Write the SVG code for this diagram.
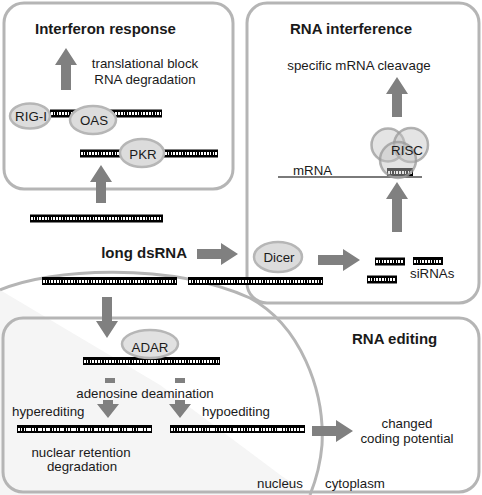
<svg xmlns="http://www.w3.org/2000/svg" width="482" height="495" viewBox="0 0 482 495">
<style>
text{font-family:"Liberation Sans",Arial,sans-serif;fill:#1a1a1a;font-size:13.3px}
.t{font-weight:bold;font-size:15px}
.m{text-anchor:middle}
.panel{fill:#fff;stroke:#b5b5b5;stroke-width:3}
.enz{fill:#dcdcdc;stroke:#b6b6b6;stroke-width:2.5}
.ds{stroke:#000;stroke-width:8}
.dw{stroke:#fff;stroke-width:3;stroke-dasharray:1.6 1.2;shape-rendering:crispEdges}
.arr{fill:#808080}
.risc{fill:#c4c4c4;fill-opacity:0.45;stroke:#9a9a9a;stroke-opacity:0.75;stroke-width:2.5}
</style>
<rect width="482" height="495" fill="#fff"/>
<g id="nucleus">
<path d="M0,290 L160,385 L283,477 L312,495 L0,495 Z" fill="#f5f5f5"/>
<path d="M0,290 C50,268 170,262 250,298 C300,325 325,390 322,445 C320,470 314,485 310,495" fill="none" stroke="#b5b5b5" stroke-width="3"/>
</g>
<g id="interferon-response">
<rect class="panel" x="4" y="3" width="229" height="186" rx="20"/>
<text class="t" x="35" y="34">Interferon response</text>
<text class="m" x="145" y="68">translational block</text>
<text class="m" x="145" y="84">RNA degradation</text>
</g>
<g id="rna-interference">
<rect class="panel" x="247" y="3" width="232" height="300" rx="20"/>
<text class="t" x="290" y="34">RNA interference</text>
<text class="m" x="359" y="70">specific mRNA cleavage</text>
</g>
<g id="rna-editing">
<rect class="panel" x="3" y="318" width="476" height="174" rx="20" style="fill:none"/>
<text class="t" x="352" y="344">RNA editing</text>
</g>
<g id="connectors">
<path class="arr" d="M66,48 L77,65 L71,65 L71,90 L61,90 L61,65 L55,65 Z"/>
<path class="arr" d="M101,165 L112,182 L106,182 L106,203 L96,203 L96,182 L90,182 Z"/>
<path class="arr" d="M397,77 L408,94 L402,94 L402,117 L392,117 L392,94 L386,94 Z"/>
<path class="arr" d="M397,182 L408,199 L402,199 L402,232 L392,232 L392,199 L386,199 Z"/>
<path class="arr" d="M238,254 L221,243 L221,249 L197,249 L197,259 L221,259 L221,265 Z"/>
<path class="arr" d="M360,260 L343,249 L343,255 L318,255 L318,265 L343,265 L343,271 Z"/>
<path class="arr" d="M107,338 L96,321 L102,321 L102,297 L112,297 L112,321 L118,321 Z"/>
<rect class="arr" x="105" y="378" width="10" height="5"/>
<rect class="arr" x="175" y="378" width="10" height="5"/>
<path class="arr" d="M108,418 L97,404 L103,404 L103,400 L113,400 L113,404 L119,404 Z"/>
<path class="arr" d="M180,418 L169,404 L175,404 L175,400 L185,400 L185,404 L191,404 Z"/>
<path class="arr" d="M353,431 L336,420 L336,426 L312,426 L312,436 L336,436 L336,442 Z"/>
</g>
<g id="dsrna-ifn1"><line class="ds" x1="50" y1="113.5" x2="162" y2="113.5"/><line class="dw" x1="51" y1="113.5" x2="161" y2="113.5"/></g>
<g id="dsrna-ifn2"><line class="ds" x1="80" y1="153.5" x2="218" y2="153.5"/><line class="dw" x1="81" y1="153.5" x2="217" y2="153.5"/></g>
<g id="rig-i"><ellipse class="enz" cx="30" cy="116" rx="20" ry="12.5"/><text class="m" x="31" y="121">RIG-I</text></g>
<g id="oas"><ellipse class="enz" cx="93" cy="120" rx="23" ry="14"/><text class="m" x="94" y="125">OAS</text></g>
<g id="pkr"><ellipse class="enz" cx="142" cy="153" rx="22" ry="14"/><text class="m" x="143" y="159">PKR</text></g>
<g id="dsrna-top"><line class="ds" x1="30" y1="218.5" x2="163" y2="218.5"/><line class="dw" x1="31" y1="218.5" x2="162" y2="218.5"/></g>
<g id="long-dsrna"><text class="t" x="187" y="258" text-anchor="end">long dsRNA</text></g>
<g id="dsrna-low1"><line class="ds" x1="42" y1="281" x2="177" y2="281"/><line class="dw" x1="43" y1="281" x2="176" y2="281"/></g>
<g id="dsrna-low2"><line class="ds" x1="188" y1="281" x2="323" y2="281"/><line class="dw" x1="189" y1="281" x2="322" y2="281"/></g>
<g id="dicer"><ellipse class="enz" cx="278" cy="257" rx="24" ry="15"/><text class="m" x="279" y="262">Dicer</text></g>
<g id="sirnas">
<line class="ds" x1="375" y1="261.5" x2="405" y2="261.5"/><line class="dw" x1="376" y1="261.5" x2="404" y2="261.5"/>
<line class="ds" x1="413" y1="261" x2="443" y2="261"/><line class="dw" x1="414" y1="261" x2="442" y2="261"/>
<line class="ds" x1="367" y1="279.5" x2="397" y2="279.5"/><line class="dw" x1="368" y1="279.5" x2="396" y2="279.5"/>
<text x="410" y="278">siRNAs</text>
</g>
<g id="mrna">
<line x1="278" y1="177" x2="422" y2="177" stroke="#7a7a7a" stroke-width="1.8"/>
<text x="293" y="175">mRNA</text>
<line class="ds" x1="387" y1="172" x2="413" y2="172"/><line class="dw" x1="388" y1="172" x2="412" y2="172"/>
</g>
<g id="risc">
<circle class="risc" cx="388" cy="145" r="16.5"/>
<circle class="risc" cx="411" cy="145" r="17"/>
<circle class="risc" cx="398" cy="160" r="18"/>
<text class="m" x="407" y="155">RISC</text>
</g>
<g id="dsrna-adar"><line class="ds" x1="83" y1="361" x2="220" y2="361"/><line class="dw" x1="84" y1="361" x2="219" y2="361"/></g>
<g id="adar"><ellipse class="enz" cx="150" cy="344" rx="28" ry="14" fill-opacity="0.85"/><text class="m" x="150" y="352">ADAR</text></g>
<text class="m" x="145" y="398">adenosine deamination</text>
<g id="hyperediting">
<text x="12" y="416">hyperediting</text>
<line class="ds" x1="17" y1="429" x2="152" y2="429"/>
<line class="dw" x1="18" y1="429" x2="151" y2="429" style="stroke-dasharray:1.6 1.2 1.6 1.2 1.6 1.2 4.4 1.2 1.6 1.2 1.6 1.2 4.4 1.2 1.6 1.2 4.4 1.2"/>
<text class="m" x="81" y="457">nuclear retention</text>
<text class="m" x="82" y="471">degradation</text>
</g>
<g id="hypoediting">
<text x="202" y="416">hypoediting</text>
<line class="ds" x1="170" y1="429" x2="305" y2="429"/>
<line class="dw" x1="171" y1="429" x2="304" y2="429" style="stroke-dasharray:1.6 1.2 1.6 1.2 1.6 1.2 1.6 1.2 1.6 1.2 1.6 1.2 4.4 1.2"/>
<text class="m" x="407" y="428">changed</text>
<text class="m" x="407" y="443">coding potential</text>
</g>
<text x="257" y="488">nucleus</text>
<text x="325" y="488">cytoplasm</text>
</svg>
